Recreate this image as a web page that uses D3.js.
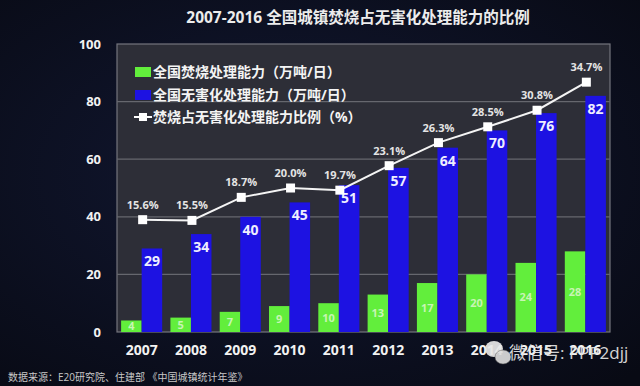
<!DOCTYPE html>
<html><head><meta charset="utf-8">
<script src="https://cdn.jsdelivr.net/npm/d3@7"></script>
<style>
html,body{margin:0;padding:0;background:#0c0f1c;}
svg{display:block;}
text{font-family:"Open Sans","Noto Sans CJK SC",sans-serif;}
</style></head>
<body>
<svg id="chart" width="640" height="386"></svg>
<script>
const years = ["2007","2008","2009","2010","2011","2012","2013","2014","2015","2016"];
const incineration = [4,5,7,9,10,13,17,20,24,28];
const harmless = [29,34,40,45,51,57,64,70,76,82];
const ratio = [15.6,15.5,18.7,20.0,19.7,23.1,26.3,28.5,30.8,34.7];
const ratioLabels = ["15.6%","15.5%","18.7%","20.0%","19.7%","23.1%","26.3%","28.5%","30.8%","34.7%"];
const yTicks = [0,20,40,60,80,100];
const seriesNames = ["全国焚烧处理能力（万吨/日）","全国无害化处理能力（万吨/日）","焚烧占无害化处理能力比例（%）"];
const title = "2007-2016  全国城镇焚烧占无害化处理能力的比例";
const source = "数据来源：E20研究院、住建部 《中国城镇统计年鉴》";
const watermark = "微信号: PPP2djj";

const svg = d3.select("#chart");
const W = 640, H = 386;
const m = {left:117, right:30, top:44, bottom:54};
const GREEN = "#62ee3c", BLUE = "#1d12e2";

// background
const defs = svg.append("defs");
const bg = defs.append("radialGradient").attr("id","bg").attr("cx","45%").attr("cy","45%").attr("r","75%");
bg.append("stop").attr("offset","0%").attr("stop-color","#121833");
bg.append("stop").attr("offset","100%").attr("stop-color","#080a14");
svg.append("rect").attr("width",W).attr("height",H).attr("fill","url(#bg)");

const x = d3.scaleBand().domain(years).range([m.left, W-m.right]).paddingInner(0).paddingOuter(0);
const x1 = d3.scaleBand().domain(["g","b"]).range([0, x.bandwidth()]).paddingInner(0).paddingOuter(0.2);
const y = d3.scaleLinear().domain([0,100]).range([H-m.bottom, m.top]);
const y2 = d3.scaleLinear().domain([0,40]).range([H-m.bottom, m.top]);

// plot area
svg.append("rect").attr("x",m.left).attr("y",m.top)
  .attr("width",W-m.left-m.right).attr("height",H-m.top-m.bottom)
  .attr("fill","#2d2e37").attr("stroke","#74757d").attr("stroke-width",1.2);

// gridlines
svg.append("g").selectAll("line").data(yTicks.filter(t=>t>0 && t<100)).join("line")
  .attr("x1",m.left).attr("x2",W-m.right)
  .attr("y1",d=>y(d)).attr("y2",d=>y(d))
  .attr("stroke","#66676e").attr("stroke-width",1.2);

// y axis
const yAxis = svg.append("g").attr("transform",`translate(${m.left-16},0)`)
  .call(d3.axisLeft(y).tickValues(yTicks).tickSize(0).tickPadding(0));
yAxis.select(".domain").remove();
yAxis.selectAll("text").attr("fill","#f2f2f2").attr("font-size",13).attr("font-weight","bold");

// x axis
const xAxis = svg.append("g").attr("transform",`translate(0,${H-m.bottom})`)
  .call(d3.axisBottom(x).tickSize(0).tickPadding(13));
xAxis.select(".domain").remove();
xAxis.selectAll("text").attr("fill","#f2f2f2").attr("font-size",14).attr("font-weight","bold");

// bars
const groups = svg.append("g").selectAll("g").data(years).join("g")
  .attr("transform",d=>`translate(${x(d)},0)`);
groups.append("rect").attr("x",x1("g")).attr("width",x1.bandwidth())
  .attr("y",(d,i)=>y(incineration[i])).attr("height",(d,i)=>y(0)-y(incineration[i]))
  .attr("fill",GREEN);
groups.append("rect").attr("x",x1("b")).attr("width",x1.bandwidth())
  .attr("y",(d,i)=>y(harmless[i])).attr("height",(d,i)=>y(0)-y(harmless[i]))
  .attr("fill",BLUE);
groups.append("text").attr("x",x1("g")+x1.bandwidth()/2)
  .attr("y",(d,i)=>(y(incineration[i])+y(0))/2+4)
  .attr("text-anchor","middle").attr("font-size",11).attr("font-weight","bold")
  .attr("fill","#c8f5b4").text((d,i)=>incineration[i]);
groups.append("text").attr("x",x1("b")+x1.bandwidth()/2)
  .attr("y",(d,i)=>y(harmless[i])+18)
  .attr("text-anchor","middle").attr("font-size",14).attr("font-weight","bold")
  .attr("fill","#eeeeff").text((d,i)=>harmless[i]);

// line
const cx = d=>x(d)+x.bandwidth()/2;
svg.append("path").datum(years)
  .attr("d",d3.line().x(d=>cx(d)+1).y((d,i)=>y2(ratio[i])))
  .attr("fill","none").attr("stroke","#f4f4f4").attr("stroke-width",2);
svg.append("g").selectAll("rect").data(years).join("rect")
  .attr("x",d=>cx(d)+1-4.5).attr("y",(d,i)=>y2(ratio[i])-4.5)
  .attr("width",9).attr("height",9).attr("fill","#ffffff");
svg.append("g").selectAll("text").data(years).join("text")
  .attr("x",d=>cx(d)+1).attr("y",(d,i)=>y2(ratio[i])-11)
  .attr("text-anchor","middle").attr("font-size",11).attr("font-weight","bold")
  .attr("fill","#e4e4e4").text((d,i)=>ratioLabels[i]);

// legend
const lg = svg.append("g");
const rows = [72,95,117];
lg.append("rect").attr("x",135).attr("y",rows[0]-5).attr("width",16).attr("height",10).attr("fill",GREEN);
lg.append("rect").attr("x",135).attr("y",rows[1]-5).attr("width",16).attr("height",10).attr("fill",BLUE);
lg.append("line").attr("x1",134).attr("x2",152).attr("y1",rows[2]).attr("y2",rows[2]).attr("stroke","#fff").attr("stroke-width",2);
lg.append("rect").attr("x",139).attr("y",rows[2]-4).attr("width",8).attr("height",8).attr("fill","#fff");
lg.selectAll("text").data(seriesNames).join("text")
  .attr("x",153).attr("y",(d,i)=>rows[i]+5)
  .attr("font-size",14).attr("font-weight","bold").attr("fill","#f4f4f4")
  .attr("font-family","'Noto Sans CJK SC',sans-serif").text(d=>d);

// title
svg.append("text").attr("x",358).attr("y",23).attr("text-anchor","middle")
  .attr("font-size",15.5).attr("font-weight","bold").attr("fill","#ececec")
  .attr("font-family","'Noto Sans CJK SC',sans-serif").text(title);

// source
svg.append("text").attr("x",8).attr("y",381)
  .attr("font-size",10).attr("fill","#c8c8c8")
  .attr("font-family","'Noto Sans CJK SC',sans-serif").text(source);

// watermark
const wm = svg.append("g").attr("opacity",0.92);
wm.append("ellipse").attr("cx",494).attr("cy",349).attr("rx",9).attr("ry",8).attr("fill","#e8e8e8");
wm.append("ellipse").attr("cx",503).attr("cy",357).attr("rx",8).attr("ry",7).attr("fill","#dcdcdc").attr("stroke","#555").attr("stroke-width",0.5);
wm.append("text").attr("x",509).attr("y",359)
  .attr("font-size",17).attr("fill","#e6e6e6")
  .attr("font-family","'Noto Sans CJK SC',sans-serif").text(watermark);
</script>
</body></html>
